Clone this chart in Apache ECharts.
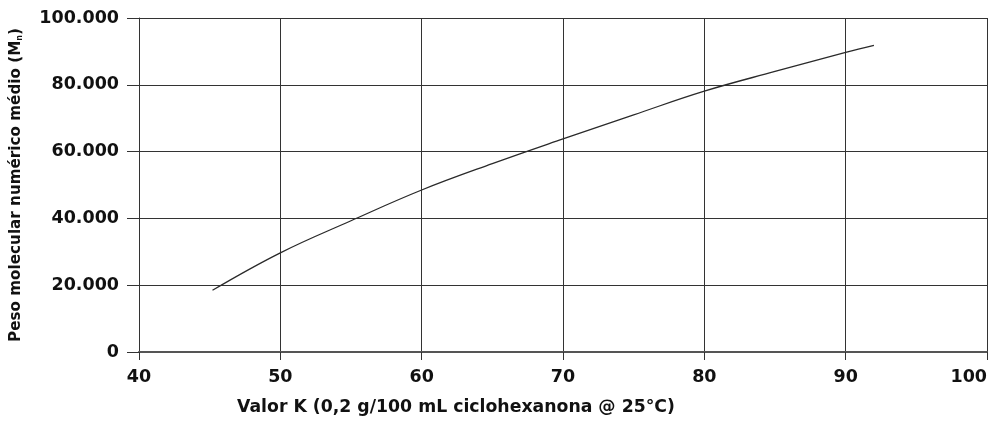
<!DOCTYPE html>
<html>
<head>
<meta charset="utf-8">
<script src="https://cdn.jsdelivr.net/npm/echarts@6/dist/echarts.min.js"></script>
<style>
  html, body { margin: 0; padding: 0; background: #fff; }
  #chart { width: 990px; height: 423px; }
</style>
</head>
<body>
<div id="chart"></div>
<script>
// K value (0.2 g/100 mL cyclohexanone, 25 °C) vs number-average molecular weight
const kValues = [45.2, 50, 55, 60, 65, 70, 75, 80, 85, 90, 92];
const mnValues = [18500, 29700, 39300, 48500, 56400, 63800, 71000, 78100, 84000, 89700, 91800];
const xTicks = [40, 50, 60, 70, 80, 90, 100];
const yTicks = [0, 20000, 40000, 60000, 80000, 100000];

const xTitle = 'Valor K (0,2 g/100 mL ciclohexanona @ 25°C)';
const FONT = '"DejaVu Sans", sans-serif';

function thousands(v) {
  return String(v).replace(/\B(?=(\d{3})+(?!\d))/g, '.');
}

const chart = echarts.init(document.getElementById('chart'));
chart.setOption({
  animation: false,
  backgroundColor: '#fff',
  grid: { left: 139, right: 3, top: 18, bottom: 71, outerBoundsMode: 'none', containLabel: false },
  xAxis: {
    type: 'value',
    min: xTicks[0],
    max: xTicks[xTicks.length - 1],
    interval: 10,
    axisLine: { show: true, lineStyle: { color: '#555', width: 2 } },
    axisTick: { show: true, length: 8, lineStyle: { color: '#333', width: 1 } },
    axisLabel: { margin: 16, color: '#111', fontFamily: FONT, fontWeight: 'bold', fontSize: 17.5, alignMaxLabel: 'right' },
    splitLine: { show: true, lineStyle: { color: '#333', width: 1 } }
  },
  yAxis: {
    type: 'value',
    min: yTicks[0],
    max: yTicks[yTicks.length - 1],
    interval: 20000,
    name: 'Peso molecular numérico médio (M{s|n})',
    nameLocation: 'middle',
    nameGap: 115,
    nameRotate: 90,
    nameTextStyle: {
      color: '#111', fontFamily: FONT, fontWeight: 'bold', fontSize: 15.2,
      rich: { s: { fontSize: 8, fontFamily: FONT, fontWeight: 'bold', color: '#111', verticalAlign: 'bottom', padding: [6, 0, 0, 0] } }
    },
    axisLine: { show: true, lineStyle: { color: '#333', width: 1 } },
    axisTick: { show: true, length: 12, lineStyle: { color: '#333', width: 1 } },
    axisLabel: { margin: 20, color: '#111', fontFamily: FONT, fontWeight: 'bold', fontSize: 17.5, formatter: thousands },
    splitLine: { show: true, lineStyle: { color: '#333', width: 1 } }
  },
  graphic: [{
    type: 'text',
    left: 237,
    top: 399,
    style: { text: xTitle, fill: '#111', font: 'bold 17.3px ' + FONT }
  }],
  series: [{
    type: 'line',
    data: kValues.map((k, i) => [k, mnValues[i]]),
    smooth: 0.4,
    showSymbol: false,
    lineStyle: { color: '#2a2a2a', width: 1.3 }
  }]
});
</script>
</body>
</html>
